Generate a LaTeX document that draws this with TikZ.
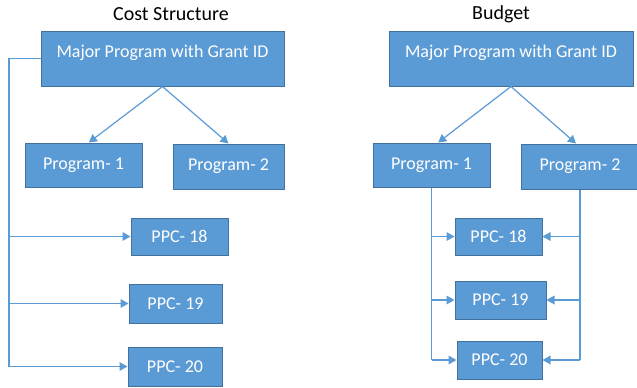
\documentclass[tikz,border=0pt]{standalone}
\usepackage{fontspec}
\setmainfont{Carlito}
\usetikzlibrary{arrows.meta}

\definecolor{boxfill}{RGB}{91,155,213}
\definecolor{boxline}{RGB}{65,113,156}

\tikzset{every picture/.style={line width=0.75pt}}
\tikzset{
	box/.style={draw=boxline, fill=boxfill, text=white, inner sep=0pt, font=\fontsize{13.5}{16}\selectfont},
	majbox/.style={box, minimum width=182.25pt, minimum height=41.25pt, text height=9.5pt, text depth=11.3pt},
	title/.style={font=\fontsize{15}{18}\selectfont},
	link/.style={draw=boxfill, line width=0.9pt, -{Triangle[length=6pt,width=6.5pt]}},
	bus/.style={draw=boxfill, line width=0.9pt}
}

\begin{document}
\begin{tikzpicture}[x=0.75pt,y=0.75pt,yscale=-1,xscale=1]
	\useasboundingbox (0,0) rectangle (637,387);

	% Text Node
	\node[title] (ctitle) at (171,14) {Cost Structure};
	% Text Node
	\node[title] (btitle) at (501,14) {Budget};

	%Shape: Rectangle [Cost Structure]
	\node[majbox] (cmaj) at (162.5,58.5) {Major Program with Grant ID};
	\node[box, minimum width=87.75pt, minimum height=33pt] (cp1) at (83.5,165) {Program- 1};
	\node[box, minimum width=83.25pt, minimum height=33.75pt] (cp2) at (228.5,166.5) {Program- 2};
	\node[box, minimum width=72.75pt, minimum height=27.75pt] (cppc18) at (179.5,236.5) {PPC- 18};
	\node[box, minimum width=69.75pt, minimum height=29.25pt] (cppc19) at (175.5,303.5) {PPC- 19};
	\node[box, minimum width=70.5pt, minimum height=29.25pt] (cppc20) at (175,366.5) {PPC- 20};

	%Shape: Rectangle [Budget]
	\node[majbox, minimum width=183pt] (bmaj) at (511,58.5) {Major Program with Grant ID};
	\node[box, minimum width=87.75pt, minimum height=33pt] (bp1) at (431.5,165) {Program- 1};
	\node[box, minimum width=88.5pt, minimum height=33.75pt] (bp2) at (580,166.5) {Program- 2};
	\node[box, minimum width=65.25pt, minimum height=27.75pt] (bppc18) at (498.5,236.5) {PPC- 18};
	\node[box, minimum width=68.25pt, minimum height=28.5pt] (bppc19) at (500.5,300) {PPC- 19};
	\node[box, minimum width=63.75pt, minimum height=28.5pt] (bppc20) at (499.5,360) {PPC- 20};

	%Straight Lines [Cost Structure]
	\draw[link] (cmaj.south) -- ([xshift=4]cp1.north);
	\draw[link] (cmaj.south) -- (cp2.north);
	\coordinate (cbus) at (9,58.5);
	\draw[bus] (cmaj.west) -- (cbus) -- (cbus |- cppc20.west);
	\draw[link] (cbus |- cppc18.west) -- (cppc18.west);
	\draw[link] (cbus |- cppc19.west) -- (cppc19.west);
	\draw[link] (cbus |- cppc20.west) -- (cppc20.west);

	%Straight Lines [Budget]
	\draw[link] (bmaj.south) -- ([xshift=5]bp1.north);
	\draw[link] (bmaj.south) -- ([xshift=-3]bp2.north);
	\draw[bus] (bp1.south) -- (bp1.south |- bppc20.west);
	\draw[link] (bp1.south |- bppc18.west) -- (bppc18.west);
	\draw[link] (bp1.south |- bppc19.west) -- (bppc19.west);
	\draw[link] (bp1.south |- bppc20.west) -- (bppc20.west);
	\draw[bus] (bp2.south) -- (bp2.south |- bppc20.east);
	\draw[link] (bp2.south |- bppc18.east) -- (bppc18.east);
	\draw[link] (bp2.south |- bppc19.east) -- (bppc19.east);
	\draw[link] (bp2.south |- bppc20.east) -- (bppc20.east);

\end{tikzpicture}
\end{document}
